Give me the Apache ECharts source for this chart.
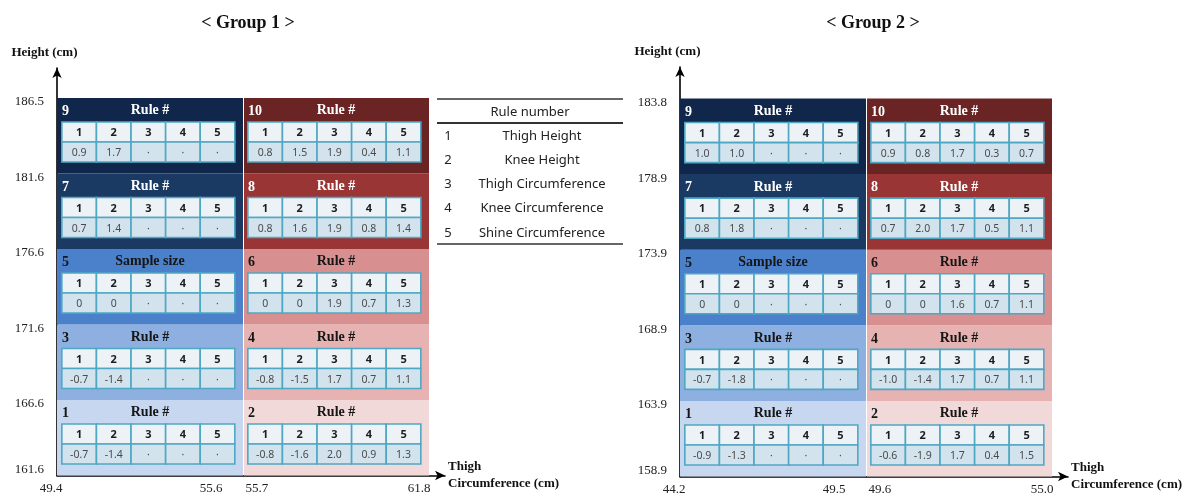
<!DOCTYPE html>
<html>
<head>
<meta charset="utf-8">
<script src="https://cdn.jsdelivr.net/npm/echarts@6/dist/echarts.min.js"></script>
<style>
html,body{margin:0;padding:0;background:#fff;}
#chart{width:1192px;height:501px;}
</style>
</head>
<body>
<div id="chart"></div>
<script>
// ---------- data ----------
const groupTitles = ['< Group 1 >', '< Group 2 >'];
const xTicks1 = ['49.4', '55.6', '55.7', '61.8'];
const yTicks1 = ['161.6', '166.6', '171.6', '176.6', '181.6', '186.5'];
const xTicks2 = ['44.2', '49.5', '49.6', '55.0'];
const yTicks2 = ['158.9', '163.9', '168.9', '173.9', '178.9', '183.8'];

const ruleIds = [1, 2, 3, 4, 5];
const ruleNames = ['Thigh Height', 'Knee Height', 'Thigh Circumference', 'Knee Circumference', 'Shine Circumference'];

const cellIds = [1, 2, 3, 4, 5, 6, 7, 8, 9, 10];
const cellCol = [0, 1, 0, 1, 0, 1, 0, 1, 0, 1];
const cellRow = [0, 0, 1, 1, 2, 2, 3, 3, 4, 4];
const cellTitles = ['Rule #', 'Rule #', 'Rule #', 'Rule #', 'Sample size', 'Rule #', 'Rule #', 'Rule #', 'Rule #', 'Rule #'];
const cellColors = ['#c6d7ef', '#f2d9d9', '#8db0e1', '#e6b2b2', '#4b80cb', '#d88f8f', '#1b3a63', '#9a3535', '#10264a', '#6a2424'];

const group1Values = [
  [-0.7, -1.4, null, null, null],
  [-0.8, -1.6, 2.0, 0.9, 1.3],
  [-0.7, -1.4, null, null, null],
  [-0.8, -1.5, 1.7, 0.7, 1.1],
  [0, 0, null, null, null],
  [0, 0, 1.9, 0.7, 1.3],
  [0.7, 1.4, null, null, null],
  [0.8, 1.6, 1.9, 0.8, 1.4],
  [0.9, 1.7, null, null, null],
  [0.8, 1.5, 1.9, 0.4, 1.1]
];
const group2Values = [
  [-0.9, -1.3, null, null, null],
  [-0.6, -1.9, 1.7, 0.4, 1.5],
  [-0.7, -1.8, null, null, null],
  [-1.0, -1.4, 1.7, 0.7, 1.1],
  [0, 0, null, null, null],
  [0, 0, 1.6, 0.7, 1.1],
  [0.8, 1.8, null, null, null],
  [0.7, 2.0, 1.7, 0.5, 1.1],
  [1.0, 1.0, null, null, null],
  [0.9, 0.8, 1.7, 0.3, 0.7]
];

// ---------- helpers ----------
const SERIF = '"Liberation Serif", "Times New Roman", serif';
const SANS = '"Noto Sans", "Open Sans", sans-serif';

function fmtVal(v) {
  if (v === null || v === undefined) return '\u00b7';
  if (v === 0) return '0';
  return v.toFixed(1);
}
function isInt(v) { return Math.abs(v - Math.round(v)) < 1e-6; }

function makeRender(values) {
  return function (params, api) {
    const col = api.value(0), row = api.value(1), id = api.value(2);
    const tl = api.coord([col, row + 1]);
    const br = api.coord([col + 1, row]);
    const w = br[0] - tl[0], h = br[1] - tl[1];
    const darkPanel = row >= 3;
    const fg = darkPanel ? '#ffffff' : '#161616';
    const off = col ? 1 : 0;
    const children = [];
    children.push({
      type: 'rect',
      shape: { x: tl[0] + off, y: tl[1], width: w - off, height: h },
      style: { fill: cellColors[id - 1] }
    });
    children.push({
      type: 'text',
      style: { text: String(id), x: tl[0] + 5, y: tl[1] + h * 0.18, fill: fg,
        font: 'bold 14px ' + SERIF, align: 'left', verticalAlign: 'middle' }
    });
    children.push({
      type: 'text',
      style: { text: cellTitles[id - 1], x: tl[0] + w * 0.5, y: tl[1] + h * 0.17, fill: fg,
        font: 'bold 14px ' + SERIF, align: 'center', verticalAlign: 'middle' }
    });
    const tx = tl[0] + w * 0.026, tw = w * 0.93, ty = tl[1] + h * 0.318, rh = h * 0.265, cw = tw / 5;
    const vals = values[id - 1];
    for (let k = 0; k < 5; k++) {
      const cx = tx + k * cw;
      children.push({
        type: 'rect',
        shape: { x: cx, y: ty, width: cw, height: rh },
        style: { fill: '#edf2f7', stroke: '#4fa8c3', lineWidth: 1.6 }
      });
      children.push({
        type: 'rect',
        shape: { x: cx, y: ty + rh, width: cw, height: rh },
        style: { fill: '#d3e3ee', stroke: '#4fa8c3', lineWidth: 1.6 }
      });
      children.push({
        type: 'text',
        style: { text: String(ruleIds[k]), x: cx + cw / 2, y: ty + rh / 2 + 1, fill: '#1d1d1d',
          font: 'bold 11px ' + SANS, align: 'center', verticalAlign: 'middle' }
      });
      children.push({
        type: 'text',
        style: { text: fmtVal(vals[k]), x: cx + cw / 2, y: ty + rh * 1.5 + 1, fill: '#4a4a4a',
          font: '10.5px ' + SANS, align: 'center', verticalAlign: 'middle' }
      });
    }
    return { type: 'group', children: children };
  };
}

function xAxisFor(gridIndex, ticks) {
  return {
    type: 'value', gridIndex: gridIndex, min: 0, max: 2.086, interval: 1,
    splitLine: { show: false }, axisTick: { show: false },
    axisLine: { show: true, lineStyle: { color: '#000', width: 1.6 }, symbol: ['none', 'arrow'], symbolSize: [7, 10] },
    axisLabel: {
      margin: 7, color: '#222', fontFamily: SERIF, fontSize: 13, showMaxLabel: true, showMinLabel: true,
      formatter: function (v) {
        if (!isInt(v)) return '';
        if (v === 0) return '{t|' + ticks[0] + '}{p|}';
        if (v === 1) return '{t|' + ticks[1] + '}{g|}{t|' + ticks[2] + '}{q|}';
        if (v === 2) return '{t|' + ticks[3] + '}{r|}';
        return '';
      },
      rich: {
        t: { fontFamily: SERIF, fontSize: 13, color: '#222' },
        p: { width: 12 },
        g: { width: 23 },
        q: { width: 18 },
        r: { width: 20 }
      }
    },
    name: 'Thigh\nCircumference (cm)', nameLocation: 'end', nameGap: 3,
    nameTextStyle: { fontFamily: SERIF, fontWeight: 'bold', fontSize: 13, color: '#111',
      align: 'left', verticalAlign: 'middle', lineHeight: 17, padding: [12, 0, 0, 0] }
  };
}
function yAxisFor(gridIndex, ticks, max) {
  return {
    type: 'value', gridIndex: gridIndex, min: 0, max: max, interval: 1,
    splitLine: { show: false }, axisTick: { show: false },
    axisLine: { show: true, lineStyle: { color: '#000', width: 1.6 }, symbol: ['none', 'arrow'], symbolSize: [7, 10] },
    axisLabel: {
      margin: 13, color: '#222', fontFamily: SERIF, fontSize: 13, showMaxLabel: true, showMinLabel: true,
      formatter: function (v) {
        if (!isInt(v) || v > 5) return '';
        return v === 0 ? '{u|' + ticks[0] + '}' : '{d|' + ticks[v] + '}';
      },
      rich: {
        d: { fontFamily: SERIF, fontSize: 13, color: '#222', padding: [8, 0, 0, 0] },
        u: { fontFamily: SERIF, fontSize: 13, color: '#222', padding: [0, 0, 12, 0] }
      }
    },
    name: 'Height (cm)', nameLocation: 'end', nameGap: 9,
    nameTextStyle: { fontFamily: SERIF, fontWeight: 'bold', fontSize: 13, color: '#111',
      align: 'center', padding: [0, 25, 0, 0] }
  };
}

// legend table (graphic)
const legendLeft = 437, legendWidth = 186, legendTop = 99, rowGap = 24.2;
const legendChildren = [
  { type: 'line', shape: { x1: legendLeft, y1: legendTop, x2: legendLeft + legendWidth, y2: legendTop }, style: { stroke: '#333', lineWidth: 1.3 } },
  { type: 'text', style: { text: 'Rule number', x: legendLeft + 93, y: legendTop + 13, align: 'center', verticalAlign: 'middle', font: '13px ' + SANS, fill: '#222' } },
  { type: 'line', shape: { x1: legendLeft, y1: legendTop + 24, x2: legendLeft + legendWidth, y2: legendTop + 24 }, style: { stroke: '#333', lineWidth: 1.8 } },
  { type: 'line', shape: { x1: legendLeft, y1: legendTop + 145, x2: legendLeft + legendWidth, y2: legendTop + 145 }, style: { stroke: '#333', lineWidth: 1.3 } }
];
ruleIds.forEach(function (r, i) {
  const y = legendTop + 37 + i * rowGap;
  legendChildren.push({ type: 'text', style: { text: String(r), x: legendLeft + 11, y: y, align: 'center', verticalAlign: 'middle', font: '13px ' + SANS, fill: '#222' } });
  legendChildren.push({ type: 'text', style: { text: ruleNames[i], x: legendLeft + 105, y: y, align: 'center', verticalAlign: 'middle', font: '13px ' + SANS, fill: '#222' } });
});

const panelData = cellIds.map(function (id, i) { return [cellCol[i], cellRow[i], id]; });

const option = {
  backgroundColor: '#ffffff',
  animation: false,
  title: [
    { text: groupTitles[0], left: 243, top: 9, textAlign: 'center',
      textStyle: { fontFamily: SERIF, fontWeight: 'bold', fontSize: 18, color: '#111' } },
    { text: groupTitles[1], left: 868, top: 9, textAlign: 'center',
      textStyle: { fontFamily: SERIF, fontWeight: 'bold', fontSize: 18, color: '#111' } }
  ],
  grid: [
    { left: 57, top: 68, width: 388, height: 407.5 },
    { left: 680, top: 67, width: 388, height: 409.5 }
  ],
  xAxis: [xAxisFor(0, xTicks1), xAxisFor(1, xTicks2)],
  yAxis: [yAxisFor(0, yTicks1, 5.398), yAxisFor(1, yTicks2, 5.417)],
  graphic: [{ type: 'group', left: 0, top: 0, bounding: 'raw', children: legendChildren }],
  series: [
    { type: 'custom', xAxisIndex: 0, yAxisIndex: 0, renderItem: makeRender(group1Values), data: panelData, clip: false },
    { type: 'custom', xAxisIndex: 1, yAxisIndex: 1, renderItem: makeRender(group2Values), data: panelData, clip: false }
  ]
};

const chart = echarts.init(document.getElementById('chart'), null, { renderer: 'canvas' });
chart.setOption(option);
</script>
</body>
</html>
